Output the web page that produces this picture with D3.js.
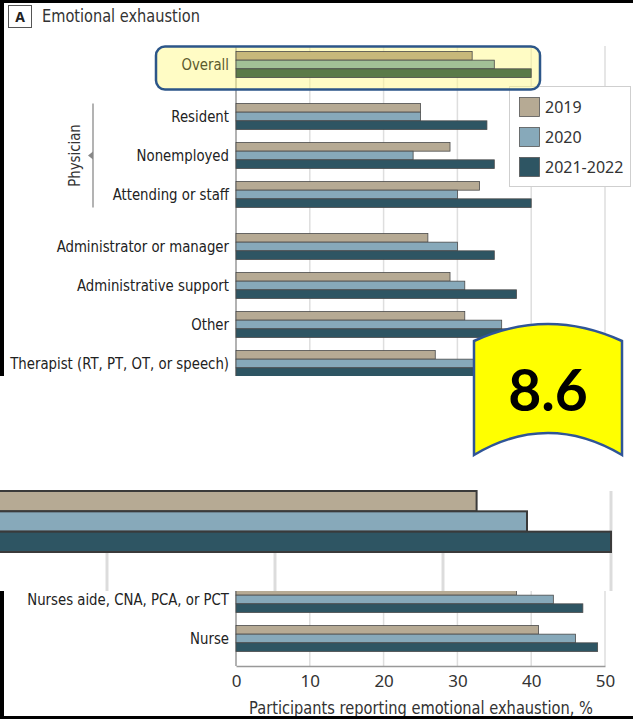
<!DOCTYPE html>
<html>
<head>
<meta charset="utf-8">
<script src="https://cdn.jsdelivr.net/npm/d3@7"></script>
<style>
  body { margin: 0; background: #fff; }
  svg { display: block; }
  .lbl { font-family: "DejaVu Sans Condensed", "DejaVu Sans", sans-serif; font-size: 16px; fill: #222; }
  .tick text { font-family: "Noto Sans", sans-serif; font-size: 17px; fill: #333; }
</style>
</head>
<body>
<script>
var years = ["2019", "2020", "2021-2022"];

var topRows = ["Overall", "Resident", "Nonemployed", "Attending or staff",
  "Administrator or manager", "Administrative support", "Other",
  "Therapist (RT, PT, OT, or speech)"];
var topGroups = ["all", "physician", "physician", "physician", "staff", "staff", "staff", "staff"];
var top2019 = [32, 25, 29, 33, 26, 29, 31, 27];
var top2020 = [35, 25, 24, 30, 30, 31, 36, 34];
var top2021 = [40, 34, 35, 40, 35, 38, 37, 36];

var bottomRows = ["Nurses aide, CNA, PCA, or PCT", "Nurse"];
var bot2019 = [38, 41];
var bot2020 = [43, 46];
var bot2021 = [47, 49];

var xTicks = [0, 10, 20, 30, 40, 50];
var zoomTicks = [10, 20, 30, 40];
var badge = "8.6";

var colors = ["#b6aa94", "#87a9ba", "#2e5563"];
var tinted = ["#c7b87a", "#a2c096", "#5b7a48"];

var w = 633, h = 719;
var svg = d3.select("body").append("svg").attr("width", w).attr("height", h);

var x = d3.scaleLinear().domain([0, 50]).range([236, 605]);
var barY = d3.scaleBand().domain(years).range([-13, 13]);

// row centres: fixed step, small extra gap when the group changes
function rowCentres(groups, start) {
  var out = [], g = 0;
  groups.forEach(function(d, i) {
    if (i > 0 && d != groups[i - 1]) g++;
    out.push(start + i * 39 + g * 13);
  });
  return out;
}
var topY = rowCentres(topGroups, 64.5);
var botY = rowCentres(["n", "n"], 599.5);

// the original type is a narrow face, so squeeze a text to a given width
function squeeze(sel, f) {
  sel.each(function() {
    var t = d3.select(this);
    var tx = +t.attr("x"), ty = +t.attr("y");
    t.attr("x", 0).attr("y", 0)
      .attr("transform", "translate(" + tx + "," + ty + ") scale(" + f + ",1)");
  });
}
function fitTo(sel, width) {
  var f = width / sel.node().getComputedTextLength();
  squeeze(sel, f);
  return f;
}

var defs = svg.append("defs");
defs.append("clipPath").attr("id", "clipTop").append("rect")
  .attr("x", 0).attr("y", 0).attr("width", w).attr("height", 376);
defs.append("clipPath").attr("id", "clipBot").append("rect")
  .attr("x", 0).attr("y", 591).attr("width", w).attr("height", 128);

function drawBars(g, rows, ys, series, pal) {
  rows.forEach(function(r, i) {
    years.forEach(function(yr, k) {
      g.append("rect")
        .attr("x", x(0))
        .attr("y", ys[i] + barY(yr))
        .attr("width", x(series[k][i]) - x(0))
        .attr("height", barY.bandwidth())
        .attr("fill", (pal ? pal[i] : colors)[k])
        .attr("stroke", "#4a4a4a")
        .attr("stroke-width", 0.8);
    });
  });
}

// ---------- top part
var topG = svg.append("g").attr("clip-path", "url(#clipTop)");

topG.selectAll("line.grid").data(xTicks.slice(1)).enter().append("line")
  .attr("x1", function(d) { return x(d); }).attr("x2", function(d) { return x(d); })
  .attr("y1", 46).attr("y2", 376)
  .attr("stroke", "#dedede").attr("stroke-width", 1.5);
topG.append("line").attr("x1", x(0)).attr("x2", x(0)).attr("y1", 46).attr("y2", 376)
  .attr("stroke", "#999").attr("stroke-width", 1.5);

// legend
var leg = svg.append("g");
leg.append("rect").attr("x", 509.5).attr("y", 86.5).attr("width", 121).attr("height", 100)
  .attr("fill", "#fff").attr("stroke", "#cfcfcf");
years.forEach(function(yr, k) {
  leg.append("rect").attr("x", 519.5).attr("y", 97.5 + k * 30).attr("width", 20).attr("height", 19)
    .attr("fill", colors[k]).attr("stroke", "#555").attr("stroke-width", 0.8);
  leg.append("text").attr("x", 545).attr("y", 107 + k * 30).attr("dy", "0.35em")
    .style("font-family", "Noto Sans, sans-serif").style("font-size", "16px").style("fill", "#333")
    .text(yr);
});

// highlight box round Overall
svg.append("rect").attr("x", 156).attr("y", 46.5).attr("width", 384).attr("height", 43)
  .attr("rx", 9).attr("fill", "rgb(255,250,140)").attr("fill-opacity", 0.5)
  .attr("stroke", "#2c5689").attr("stroke-width", 2.5);

var topBars = svg.append("g").attr("clip-path", "url(#clipTop)");
drawBars(topBars, topRows, topY, [top2019, top2020, top2021],
  topRows.map(function(d, i) { return i == 0 ? tinted : colors; }));

var rowLabels = svg.selectAll("text.row").data(topRows).enter().append("text")
  .attr("class", "lbl")
  .attr("x", 229).attr("y", function(d, i) { return topY[i]; }).attr("dy", "0.35em")
  .attr("text-anchor", "end")
  .style("fill", function(d, i) { return i == 0 ? "#5c5a2e" : "#222"; })
  .text(function(d) { return d; });

// squeeze factor taken from the longest label (219 px wide in the reference)
var narrow = 219 / rowLabels.filter(function(d, i) { return i == topRows.length - 1; })
  .node().getComputedTextLength();
squeeze(rowLabels, narrow);

// physician bracket
var phys = topY.filter(function(d, i) { return topGroups[i] == "physician"; });
var pMid = (phys[0] + phys[phys.length - 1]) / 2;
svg.append("line").attr("x1", 93).attr("x2", 93)
  .attr("y1", phys[0] - 13).attr("y2", phys[phys.length - 1] + 13)
  .attr("stroke", "#9a9a9a").attr("stroke-width", 1.5);
svg.append("path").attr("d", "M88," + pMid + "L93," + (pMid - 4) + "L93," + (pMid + 4) + "Z")
  .attr("fill", "#888");
svg.append("text").attr("class", "lbl")
  .attr("transform", "translate(80," + pMid + ") rotate(-90) scale(" + narrow + ",1)")
  .attr("text-anchor", "middle").style("fill", "#333")
  .text("Physician");

// title
svg.append("rect").attr("x", 8.5).attr("y", 5.5).attr("width", 23).attr("height", 22)
  .attr("fill", "#fff").attr("stroke", "#555");
svg.append("text").attr("x", 20).attr("y", 22).attr("text-anchor", "middle")
  .style("font-family", "Noto Sans, sans-serif").style("font-weight", "bold")
  .style("font-size", "14px").style("fill", "#222").text("A");
var title = svg.append("text").attr("x", 42).attr("y", 22)
  .style("font-family", "DejaVu Sans Condensed, sans-serif").style("font-size", "17px")
  .style("fill", "#333").text("Emotional exhaustion");
fitTo(title, 158);

// ---------- magnified strip of the Overall row
var xz = d3.scaleLinear().domain([0, 40]).range([-61, 611]);
var yz = d3.scaleBand().domain(years).range([491, 552]);
svg.selectAll("line.zgrid").data(zoomTicks).enter().append("line")
  .attr("x1", function(d) { return xz(d); }).attr("x2", function(d) { return xz(d); })
  .attr("y1", 491).attr("y2", 591)
  .attr("stroke", "#dcdcdc").attr("stroke-width", 3);
years.forEach(function(yr, k) {
  svg.append("rect")
    .attr("x", xz(0)).attr("y", yz(yr))
    .attr("width", xz([top2019, top2020, top2021][k][0]) - xz(0))
    .attr("height", yz.bandwidth())
    .attr("fill", colors[k]).attr("stroke", "#3a3a3a").attr("stroke-width", 2);
});

// ---------- bottom part
var botG = svg.append("g").attr("clip-path", "url(#clipBot)");
botG.selectAll("line.grid").data(xTicks.slice(1)).enter().append("line")
  .attr("x1", function(d) { return x(d); }).attr("x2", function(d) { return x(d); })
  .attr("y1", 560).attr("y2", 666)
  .attr("stroke", "#dedede").attr("stroke-width", 1.5);
botG.append("line").attr("x1", x(0)).attr("x2", x(0)).attr("y1", 560).attr("y2", 666)
  .attr("stroke", "#999").attr("stroke-width", 1.5);
drawBars(botG, bottomRows, botY, [bot2019, bot2020, bot2021]);

var botLabels = svg.selectAll("text.brow").data(bottomRows).enter().append("text")
  .attr("class", "lbl")
  .attr("x", 229).attr("y", function(d, i) { return botY[i]; }).attr("dy", "0.35em")
  .attr("text-anchor", "end")
  .text(function(d) { return d; });
squeeze(botLabels, narrow);

var ax = svg.append("g").attr("transform", "translate(0,666)")
  .call(d3.axisBottom(x).tickValues(xTicks).tickSize(0).tickPadding(9));
ax.select(".domain").attr("stroke", "#999").attr("stroke-width", 1.5);

var axTitle = svg.append("text").attr("x", 421).attr("y", 714).attr("text-anchor", "middle")
  .style("font-family", "DejaVu Sans Condensed, sans-serif").style("font-size", "18px").style("fill", "#333")
  .text("Participants reporting emotional exhaustion, %");
fitTo(axTitle, 344);

// ---------- callout
var p = d3.path();
p.moveTo(474, 455);
p.lineTo(474, 341);
p.quadraticCurveTo(548, 307, 622, 341);
p.lineTo(622, 455);
p.quadraticCurveTo(548, 411, 474, 455);
p.closePath();
svg.append("path").attr("d", p.toString())
  .attr("fill", "#ffff00").attr("stroke", "#2f5597").attr("stroke-width", 2.5);
svg.append("text").attr("x", 548).attr("y", 411).attr("text-anchor", "middle")
  .style("font-family", "Lato, sans-serif").style("font-weight", "bold")
  .style("font-size", "57px").style("fill", "#000").text(badge);

// ---------- black frame pieces
svg.append("rect").attr("x", 0).attr("y", 0).attr("width", w).attr("height", 3).attr("fill", "#000");
svg.append("rect").attr("x", 0).attr("y", 0).attr("width", 4).attr("height", 376).attr("fill", "#000");
svg.append("rect").attr("x", 0).attr("y", 591).attr("width", 4).attr("height", 128).attr("fill", "#000");
svg.append("rect").attr("x", 0).attr("y", 716).attr("width", w).attr("height", 3).attr("fill", "#000");
</script>
</body>
</html>
